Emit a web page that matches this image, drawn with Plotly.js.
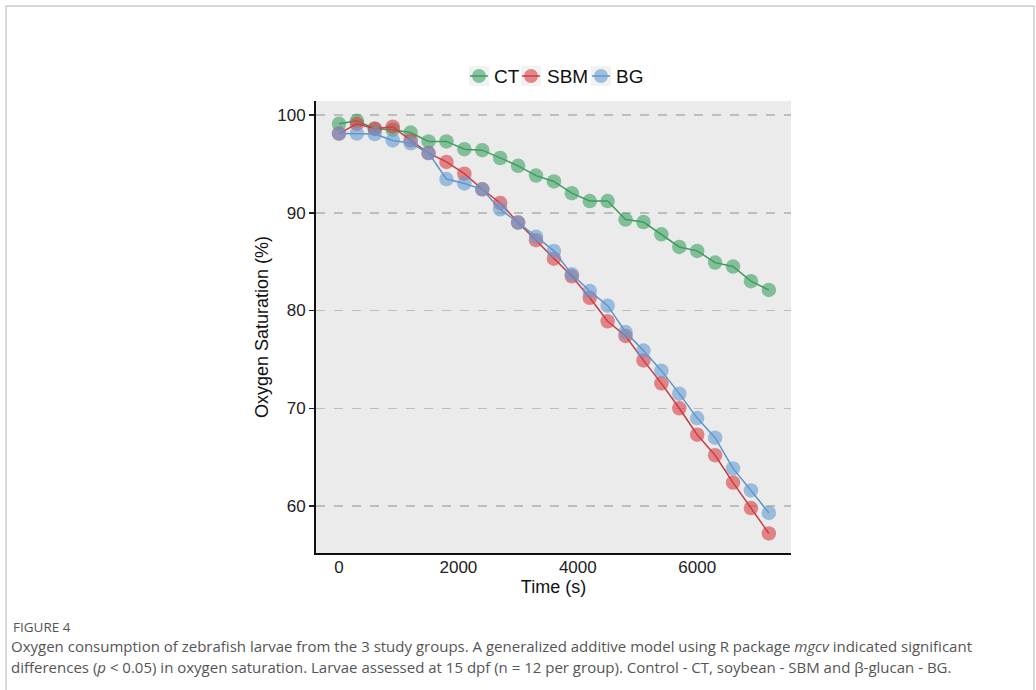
<!DOCTYPE html>
<html>
<head>
<meta charset="utf-8">
<script src="https://cdn.plot.ly/plotly-3.0.1.min.js"></script>
<style>
html,body{margin:0;padding:0;background:#fff;}
#chart{width:1036px;height:690px;}
</style>
</head>
<body>
<div id="chart"></div>
<script>
const timeS = [0,300,600,900,1200,1500,1800,2100,2400,2700,3000,3300,3600,3900,4200,4500,4800,5100,5400,5700,6000,6300,6600,6900,7200];
const ctValues = [99.1,99.4,98.6,98.5,98.2,97.3,97.3,96.5,96.4,95.6,94.8,93.8,93.2,92.0,91.2,91.2,89.3,89.05,87.8,86.5,86.1,84.9,84.5,83.0,82.1];
const sbmValues = [98.1,99.1,98.6,98.8,97.4,96.1,95.2,94.0,92.4,91.0,89.0,87.2,85.3,83.5,81.3,78.9,77.4,74.9,72.55,70.0,67.3,65.2,62.4,59.8,57.2];
const bgValues = [98.1,98.1,98.05,97.4,97.1,96.1,93.45,93.0,92.4,90.35,89.0,87.55,86.1,83.7,82.0,80.5,77.8,75.9,73.85,71.5,69.0,67.0,63.85,61.6,59.3];
const seriesNames = ["CT","SBM","BG"];
const yTicks = [60,70,80,90,100];
const xTicks = [0,2000,4000,6000];

const lineColors = ["#3d9a62","#c93a41","#5a95c8"];
const markerColors = ["rgba(60,160,95,0.6)","rgba(215,62,68,0.6)","rgba(100,155,210,0.6)"];
const allValues = [ctValues, sbmValues, bgValues];

const traces = allValues.map((vals, i) => ({
  x: timeS, y: vals, name: seriesNames[i], type: "scatter", mode: "lines+markers",
  showlegend: false,
  line: {color: lineColors[i], width: 1.5},
  marker: {color: markerColors[i], size: 14.5, line: {width: 0}}
}));

const L = 316, R = 791, T = 101, B = 553;
const pw = R - L, ph = B - T;
const px = v => (v - L) / pw;
const py = v => (B - v) / ph;

const captionFont = {family: "Open Sans, Noto Sans, sans-serif", size: 15, color: "#555"};

// legend key layout (pixel positions of key centres and label starts)
const legendKeyX = [479, 531, 601];
const legendTextX = [492, 545, 614];
const legendY = 76;

const shapes = [{
  type: "rect", xref: "paper", yref: "paper",
  x0: px(6), x1: px(1034), y0: py(700), y1: py(6),
  line: {color: "#CCCCCC", width: 1.5}, fillcolor: "rgba(0,0,0,0)", layer: "below"
}];
const annotations = [];
seriesNames.forEach((name, i) => {
  const cx = legendKeyX[i];
  shapes.push({type: "rect", xref: "paper", yref: "paper",
    x0: px(cx - 10), x1: px(cx + 10), y0: py(legendY + 10), y1: py(legendY - 10),
    line: {width: 0}, fillcolor: "#F2F2F2"});
  shapes.push({type: "line", xref: "paper", yref: "paper",
    x0: px(cx - 9), x1: px(cx + 9), y0: py(legendY), y1: py(legendY),
    line: {color: lineColors[i], width: 1.5}});
  shapes.push({type: "circle", xref: "paper", yref: "paper",
    x0: px(cx - 7), x1: px(cx + 7), y0: py(legendY + 7), y1: py(legendY - 7),
    line: {width: 0}, fillcolor: markerColors[i]});
  annotations.push({xref: "paper", yref: "paper", x: px(legendTextX[i]), y: py(legendY),
    xanchor: "left", yanchor: "middle", showarrow: false, text: name,
    font: {family: "Liberation Sans, Arial, sans-serif", size: 19, color: "#111"}});
});

annotations.push(
  {xref: "paper", yref: "paper", x: px(11), y: py(627), xanchor: "left", yanchor: "middle",
   showarrow: false, text: "FIGURE 4", font: {family: "Open Sans, Noto Sans, sans-serif", size: 13.5, color: "#555"}},
  {xref: "paper", yref: "paper", x: px(9), y: py(646), xanchor: "left", yanchor: "middle",
   showarrow: false, text: "Oxygen consumption of zebrafish larvae from the 3 study groups. A generalized additive model using R package <i>mgcv</i> indicated significant", font: captionFont},
  {xref: "paper", yref: "paper", x: px(9), y: py(667), xanchor: "left", yanchor: "middle",
   showarrow: false, text: "differences (<i>p</i> &lt; 0.05) in oxygen saturation. Larvae assessed at 15 dpf (n = 12 per group). Control - CT, soybean - SBM and β-glucan - BG.", font: captionFont}
);

const layout = {
  width: 1036, height: 690,
  margin: {l: L, r: 1036 - R, t: T, b: 690 - B, pad: 0},
  paper_bgcolor: "#fff", plot_bgcolor: "#EBEBEB",
  font: {family: "Liberation Sans, Arial, sans-serif", color: "#222"},
  showlegend: false,
  xaxis: {
    range: [-385, 7571], tickvals: xTicks, ticktext: xTicks.map(String),
    showgrid: false, zeroline: false, showline: true, linecolor: "#111", linewidth: 2,
    ticks: "", ticklabelstandoff: -2,
    tickfont: {size: 17, color: "#222"},
    title: {text: "Time (s)", font: {size: 18, color: "#111"}, standoff: 0}
  },
  yaxis: {
    range: [55.2, 101.43], tickvals: yTicks, ticktext: yTicks.map(String),
    showgrid: true, gridcolor: "#BDBDBD", griddash: "dash", gridwidth: 1.5,
    zeroline: false, showline: true, linecolor: "#111", linewidth: 2,
    ticks: "outside", ticklen: 5, tickcolor: "#222", tickwidth: 1.5,
    tickfont: {size: 17, color: "#222"},
    title: {text: "Oxygen Saturation (%)", font: {size: 18, color: "#111"}, standoff: 4}
  },
  shapes: shapes,
  annotations: annotations
};

Plotly.newPlot("chart", traces, layout, {displayModeBar: false, staticPlot: true});
</script>
</body>
</html>
